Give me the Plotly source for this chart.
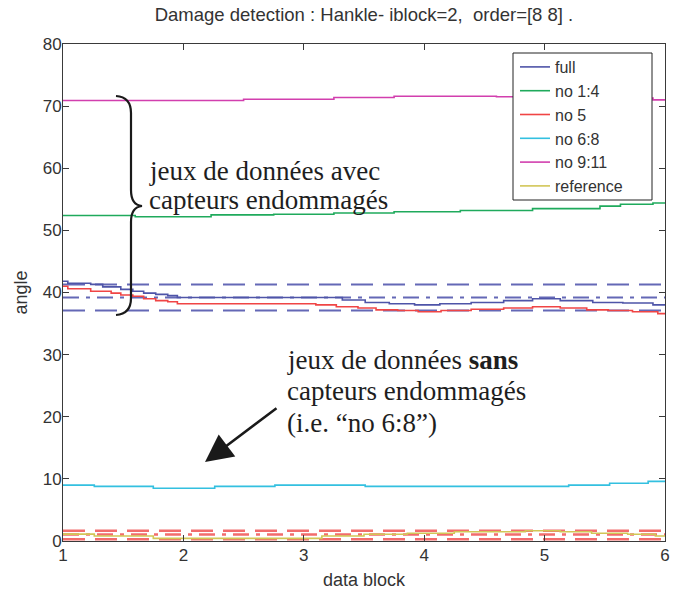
import plotly.graph_objects as go

# ---------------- data ----------------
full_x = [1.0, 1.04, 1.23, 1.33, 1.48, 1.58, 1.67, 1.77, 1.87, 1.95, 3.32, 3.51, 3.71, 3.92, 4.13, 4.39, 4.66, 4.90, 5.13, 5.40, 5.65, 5.90, 6.0]
full_y = [41.8, 41.5, 41.3, 40.9, 40.5, 40.2, 39.9, 39.7, 39.5, 39.2, 38.8, 38.4, 38.2, 38.0, 38.2, 38.4, 38.7, 39.0, 38.7, 38.4, 38.3, 38.0, 38.0]

no14_x = [1.0, 1.6, 2.23, 2.75, 3.25, 3.75, 4.3, 4.9, 5.46, 5.63, 5.9, 6.0]
no14_y = [52.4, 52.2, 52.5, 52.6, 52.8, 53.0, 53.2, 53.5, 53.9, 54.2, 54.4, 54.4]

no5_x = [1.0, 1.04, 1.23, 1.40, 1.48, 1.58, 1.67, 1.77, 1.87, 1.95, 3.10, 3.27, 3.45, 3.60, 3.78, 3.95, 4.14, 4.39, 4.66, 4.90, 5.13, 5.35, 5.53, 5.73, 5.94, 6.0]
no5_y = [41.0, 40.6, 40.2, 39.9, 39.6, 39.4, 39.0, 38.7, 38.5, 38.2, 38.0, 37.7, 37.5, 37.2, 37.1, 36.9, 37.1, 37.3, 37.5, 37.7, 37.5, 37.2, 37.1, 36.9, 36.6, 36.6]

no68_x = [1.0, 1.26, 1.75, 2.26, 2.76, 3.51, 5.2, 5.54, 5.86, 6.0]
no68_y = [9.0, 8.8, 8.5, 8.8, 9.0, 8.8, 9.0, 9.3, 9.6, 9.6]

no911_x = [1.0, 1.5, 2.5, 3.25, 3.75, 4.6, 5.3, 5.9, 6.0]
no911_y = [70.9, 70.9, 71.1, 71.4, 71.6, 71.5, 71.3, 71.0, 71.0]

ref_x = [1.0, 1.26, 1.75, 3.15, 3.5, 3.86, 4.25, 4.84, 5.13, 5.39, 5.69, 5.92, 6.0]
ref_y = [1.1, 0.8, 0.43, 0.8, 1.08, 1.24, 1.5, 1.66, 1.5, 1.24, 1.08, 0.8, 0.8]

# threshold lines (upper, mean, lower)
full_thr = [41.3, 39.2, 37.1]
ref_thr = [1.65, 1.05, 0.3]
thr_x = [1, 6]

x_ticks = [1, 2, 3, 4, 5, 6]
y_ticks = [0, 10, 20, 30, 40, 50, 60, 70, 80]

# ---------------- styling ----------------
W, H = 674, 592
ML, MR, MT, MB = 63, 9, 44, 51
PW, PH = W - ML - MR, H - MT - MB


def P(px, py):
    return (px - ML) / PW, (H - MB - py) / PH


SANS = "Liberation Sans Narrow, Liberation Sans, Arial, sans-serif"
SERIF = "Liberation Serif, Times New Roman, serif"

C_FULL = "#4e54a8"
C_NO14 = "#1faa5c"
C_NO5 = "#f04545"
C_NO68 = "#33c0e0"
C_NO911 = "#d23fae"
C_REF = "#d2c656"
C_FULL_THR = "#6468b6"
C_REF_THR = "#f26c6c"

fig = go.Figure()

dash_styles = ["22px,10px", "16px,7px,4px,7px", "22px,10px"]
for v, d in zip(full_thr, dash_styles):
    fig.add_trace(go.Scatter(x=thr_x, y=[v, v], mode="lines", showlegend=False,
                             line=dict(color=C_FULL_THR, width=2, dash=d), hoverinfo="skip"))
for v, d in zip(ref_thr, dash_styles):
    fig.add_trace(go.Scatter(x=thr_x, y=[v, v], mode="lines", showlegend=False,
                             line=dict(color=C_REF_THR, width=2.5, dash=d), hoverinfo="skip"))

series = [
    ("full", full_x, full_y, C_FULL),
    ("no 1:4", no14_x, no14_y, C_NO14),
    ("no 5", no5_x, no5_y, C_NO5),
    ("no 6:8", no68_x, no68_y, C_NO68),
    ("no 9:11", no911_x, no911_y, C_NO911),
    ("reference", ref_x, ref_y, C_REF),
]
for name, xs, ys, c in series:
    fig.add_trace(go.Scatter(x=xs, y=ys, mode="lines", name=name,
                             line=dict(color=c, width=1.6, shape="hv")))

axis_common = dict(showline=True, linecolor="#3a3a3a", linewidth=1, mirror="ticks",
                   ticks="inside", ticklen=6, tickcolor="#3a3a3a", showgrid=False,
                   zeroline=False, automargin=False, ticklabeloverflow="allow",
                   tickfont=dict(family=SANS, size=17, color="#333"))

fig.update_xaxes(range=[1, 6], tickvals=x_ticks, ticklabelstandoff=-1, **axis_common,
                 title=dict(text="data block", font=dict(family=SANS, size=18, color="#333"), standoff=8))
fig.update_yaxes(range=[0, 80], tickvals=y_ticks, ticklabelstandoff=-3, **axis_common,
                 title=dict(text="angle", font=dict(family=SANS, size=18, color="#333"), standoff=10))

# legend frame (drawn as a box behind the legend entries)
b0x, b0y = P(513, 53)
b1x, b1y = P(652, 200)
fig.add_shape(type="rect", xref="paper", yref="paper", x0=b0x, y0=b0y, x1=b1x, y1=b1y,
              fillcolor="white", line=dict(color="#222", width=1), layer="above")

# curly brace
pts = [(116, 96), (131, 97), (131, 113), (131, 190), (131, 205), (142, 206), (131, 207),
       (131, 222), (131, 298), (131, 314), (116, 315)]
pp = [P(a, b) for a, b in pts]
path = ("M {0[0]},{0[1]} Q {1[0]},{1[1]} {2[0]},{2[1]} L {3[0]},{3[1]} "
        "Q {4[0]},{4[1]} {5[0]},{5[1]} Q {6[0]},{6[1]} {7[0]},{7[1]} "
        "L {8[0]},{8[1]} Q {9[0]},{9[1]} {10[0]},{10[1]}").format(*pp)
fig.add_shape(type="path", path=path, xref="paper", yref="paper",
              line=dict(color="#1a1a1a", width=2.2))

note1 = [("jeux de données avec", 171), ("capteurs endommagés", 200)]
for txt, yy in note1:
    ax_, ay_ = P(147, yy)
    fig.add_annotation(x=ax_, y=ay_, xref="paper", yref="paper", showarrow=False,
                       xanchor="left", yanchor="middle", align="left", text=txt,
                       font=dict(family=SERIF, size=27, color="#1e1e1e"))

note2 = [("jeux de données <b>sans</b>", 360), ("capteurs endommagés", 391), ("(i.e. “no 6:8”)", 423)]
for txt, yy in note2:
    ax_, ay_ = P(285, yy)
    fig.add_annotation(x=ax_, y=ay_, xref="paper", yref="paper", showarrow=False,
                       xanchor="left", yanchor="middle", align="left", text=txt,
                       font=dict(family=SERIF, size=27, color="#1e1e1e"))

tx, ty = P(205, 462)
fig.add_annotation(x=tx, y=ty, xref="paper", yref="paper", text="", showarrow=True,
                   ax=73, ay=-55, arrowhead=2, arrowsize=2.2, arrowwidth=2.5,
                   arrowcolor="#1a1a1a")

lx, ly = P(515, 50)
fig.update_layout(
    width=W, height=H,
    margin=dict(l=ML, r=MR, t=MT, b=MB, autoexpand=False),
    paper_bgcolor="white", plot_bgcolor="white",
    title=dict(text="Damage detection : Hankle- iblock=2,  order=[8 8] .",
               xref="paper", x=0.5, xanchor="center", y=1 - 15 / H, yanchor="middle",
               font=dict(family=SANS, size=18.5, color="#333")),
    legend=dict(x=lx, y=ly, xanchor="left", yanchor="top", bgcolor="rgba(0,0,0,0)",
                borderwidth=0, itemwidth=30,
                font=dict(family=SANS, size=16, color="#333"),
                tracegroupgap=0),
    showlegend=True,
)

fig.write_html("out.html", config={"displayModeBar": False},
               post_script="document.body.style.margin='0';")
